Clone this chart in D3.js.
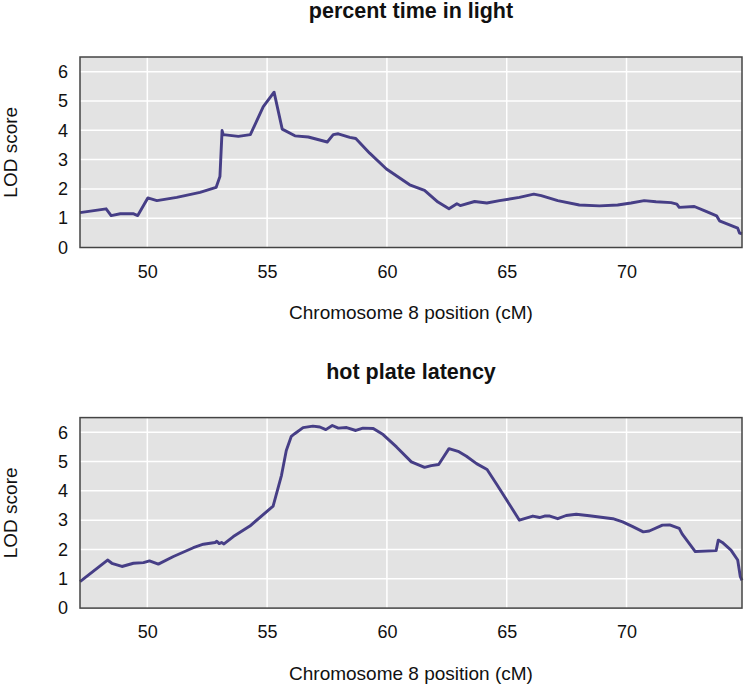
<!DOCTYPE html>
<html>
<head>
<meta charset="utf-8">
<script src="https://cdn.jsdelivr.net/npm/d3@7"></script>
<style>
    body { margin: 0; background: #fff; }
    svg { display: block; font-family: "Liberation Sans", Arial, Helvetica, sans-serif; }
</style>
</head>
<body>
<div class="curr-graff"></div>
<script>
// panel titles
const titles = ["percent time in light", "hot plate latency"];

// tick labels
const xTicks = [50, 55, 60, 65, 70];
const yTicks = [0, 1, 2, 3, 4, 5, 6];

// percent time in light
const lightPos = [47.19, 48.28, 48.49, 48.87, 49.43, 49.6, 50.02, 50.4, 51.23, 52.2, 52.87, 53.03, 53.12, 53.17,
    53.8, 54.3, 54.84, 55.29, 55.63, 56.16, 56.72, 57.51, 57.76, 57.97, 58.45, 58.7, 59.28, 59.98, 60.95, 61.57,
    62.13, 62.59, 62.92, 63.06, 63.66, 64.17, 64.7, 65.53, 66.13, 66.44, 67.13, 68.03, 68.87, 69.63, 70.19, 70.74,
    71.23, 71.86, 72.1, 72.2, 72.83, 73.32, 73.76, 73.88, 74.64, 74.72, 74.82];
const lightLod = [1.19, 1.32, 1.09, 1.15, 1.15, 1.09, 1.69, 1.6, 1.71, 1.88, 2.05, 2.42, 3.99, 3.85,
    3.79, 3.85, 4.81, 5.3, 4.04, 3.81, 3.77, 3.6, 3.85, 3.88, 3.76, 3.72, 3.22, 2.68, 2.14, 1.95,
    1.55, 1.32, 1.49, 1.43, 1.57, 1.52, 1.6, 1.71, 1.82, 1.77, 1.6, 1.45, 1.42, 1.45, 1.52, 1.6,
    1.56, 1.53, 1.48, 1.37, 1.4, 1.23, 1.08, 0.91, 0.66, 0.49, 0.47];

// hot plate latency
const hotPos = [47.19, 48.34, 48.52, 48.94, 49.42, 49.84, 50.09, 50.46, 51.09, 51.92, 52.34, 52.83, 52.9, 53.0,
    53.1, 53.2, 53.59, 54.28, 55.25, 55.6, 55.8, 56.01, 56.15, 56.5, 56.91, 57.2, 57.45, 57.72, 57.97, 58.32,
    58.7, 59.0, 59.43, 59.84, 60.4, 61.02, 61.57, 61.85, 62.16, 62.59, 62.97, 63.32, 63.74, 64.18, 64.6, 65.53,
    66.09, 66.37, 66.58, 66.8, 67.13, 67.48, 67.9, 68.45, 69.43, 69.84, 70.26, 70.7, 70.95, 71.5, 71.8, 72.2,
    72.32, 72.87, 73.74, 73.83, 74.0, 74.36, 74.64, 74.75, 74.82];
const hotLod = [0.9, 1.64, 1.53, 1.42, 1.53, 1.55, 1.61, 1.5, 1.76, 2.06, 2.18, 2.24, 2.28, 2.2,
    2.24, 2.19, 2.44, 2.8, 3.48, 4.53, 5.38, 5.86, 5.95, 6.16, 6.21, 6.18, 6.09, 6.23, 6.14, 6.16,
    6.06, 6.14, 6.13, 5.92, 5.5, 4.99, 4.8, 4.86, 4.9, 5.44, 5.35, 5.18, 4.93, 4.73, 4.2, 3.0,
    3.14, 3.09, 3.14, 3.14, 3.05, 3.16, 3.2, 3.15, 3.05, 2.94, 2.78, 2.6, 2.63, 2.83, 2.84, 2.72,
    2.53, 1.93, 1.96, 2.32, 2.24, 1.98, 1.64, 1.07, 0.95];

let width = 745;
let height = 692;

let plotLeft = 80;
let plotRight = 742;
let plotTop = 57;
let plotBottom = 247.5;
let panelShift = 360.6;

let svg = d3.select(".curr-graff")
    .append("svg")
    .attr("width", width)
    .attr("height", height);

let xScale = d3.scaleLinear()
    .domain([47.19, 74.82])
    .range([plotLeft, plotRight]);

let yScale = d3.scaleLinear()
    .domain([0, 6.5])
    .range([plotBottom, plotTop]);

function drawPanel(idx, pos, lod) {
    let g = svg.append("g")
        .attr("transform", `translate(0, ${idx * panelShift})`);

    // серый фон
    g.append("rect")
        .attr("x", plotLeft)
        .attr("y", plotTop)
        .attr("width", plotRight - plotLeft)
        .attr("height", plotBottom - plotTop)
        .attr("fill", "#e3e3e3");

    // сетка
    g.selectAll(".vgrid")
        .data(xTicks)
        .enter().append("line")
        .attr("x1", d => xScale(d))
        .attr("x2", d => xScale(d))
        .attr("y1", plotTop)
        .attr("y2", plotBottom)
        .attr("stroke", "#fff")
        .attr("stroke-width", 1.5);

    g.selectAll(".hgrid")
        .data(yTicks.filter(d => d > 0))
        .enter().append("line")
        .attr("x1", plotLeft)
        .attr("x2", plotRight)
        .attr("y1", d => yScale(d))
        .attr("y2", d => yScale(d))
        .attr("stroke", "#fff")
        .attr("stroke-width", 1.5);

    // оси
    let axisX = d3.axisBottom(xScale).tickValues(xTicks).tickSize(0).tickPadding(17.5)
        .tickFormat(d3.format("d"));
    let axisY = d3.axisLeft(yScale).tickValues(yTicks).tickSize(0).tickPadding(12)
        .tickFormat(d3.format("d"));

    let gx = g.append("g")
        .attr("transform", `translate(0, ${plotBottom})`)
        .call(axisX);
    let gy = g.append("g")
        .attr("transform", `translate(${plotLeft}, 0)`)
        .call(axisY);

    [gx, gy].forEach(a => {
        a.select(".domain").remove();
        a.selectAll("text")
            .style("font-size", "18px")
            .style("font-family", "'Liberation Sans', Arial, sans-serif")
            .attr("fill", "#111");
    });
    gx.selectAll("text").attr("dy", "0.71em");

    // линия
    let data = pos.map((p, i) => [p, lod[i]]);
    g.append("path")
        .datum(data)
        .attr("fill", "none")
        .attr("stroke", "#463e86")
        .attr("stroke-width", 2.9)
        .attr("stroke-linejoin", "round")
        .attr("d", d3.line()
            .x(d => xScale(d[0]))
            .y(d => yScale(d[1]))
        );

    // рамка
    g.append("rect")
        .attr("x", plotLeft)
        .attr("y", plotTop)
        .attr("width", plotRight - plotLeft)
        .attr("height", plotBottom - plotTop)
        .attr("fill", "none")
        .attr("stroke", "#444")
        .attr("stroke-width", 1.5);

    g.append("text")
        .attr("x", (plotLeft + plotRight) / 2)
        .attr("y", 18)
        .style("text-anchor", "middle")
        .style("font-size", "21.5px")
        .style("font-weight", "bold")
        .attr("fill", "#111")
        .text(titles[idx]);

    g.append("text")
        .attr("x", (plotLeft + plotRight) / 2)
        .attr("y", 319)
        .style("text-anchor", "middle")
        .style("font-size", "19px")
        .attr("fill", "#111")
        .text("Chromosome 8 position (cM)");

    g.append("text")
        .attr("transform", `translate(16.5, ${(plotTop + plotBottom) / 2}) rotate(-90)`)
        .style("text-anchor", "middle")
        .style("font-size", "19px")
        .attr("fill", "#111")
        .text("LOD score");
}

drawPanel(0, lightPos, lightLod);
drawPanel(1, hotPos, hotLod);
</script>
</body>
</html>
